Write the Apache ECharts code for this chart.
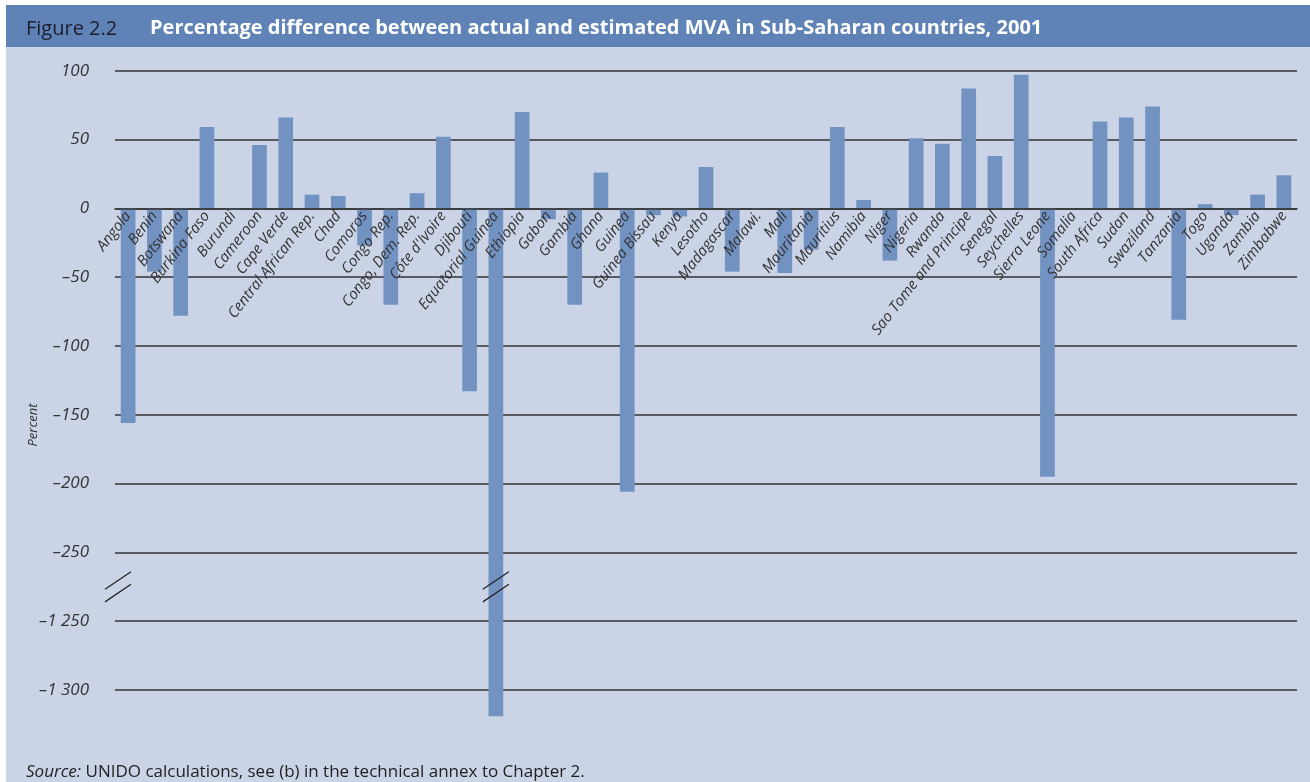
<!DOCTYPE html>
<html>
<head>
<meta charset="utf-8">
<title>Figure 2.2</title>
<script src="https://cdn.jsdelivr.net/npm/echarts@6/dist/echarts.min.js"></script>
<style>
  html, body { margin: 0; padding: 0; background: #fff; }
  .frame { position: relative; width: 1310px; height: 782px; overflow: hidden; }
  .head { position: absolute; left: 6px; top: 5px; width: 1304px; height: 42px; background: #5f83b6; }
  .body { position: absolute; left: 6px; top: 47px; width: 1304px; height: 735px; background: #cbd4e6; }
  #chart { position: absolute; left: 0; top: 0; width: 1310px; height: 782px; }
</style>
</head>
<body>
<div class="frame">
  <div class="head"></div>
  <div class="body"></div>
  <div id="chart"></div>
</div>
<script>
const countries = [
  'Angola', 'Benin', 'Botswana', 'Burkina Faso', 'Burundi', 'Cameroon', 'Cape Verde',
  'Central African Rep.', 'Chad', 'Comoros', 'Congo Rep.', 'Congo, Dem. Rep.', "Côte d'Ivoire",
  'Djibouti', 'Equatorial Guinea', 'Ethiopia', 'Gabon', 'Gambia', 'Ghana', 'Guinea',
  'Guinea Bissau', 'Kenya', 'Lesotho', 'Madagascar', 'Malawi.', 'Mali', 'Mauritania',
  'Mauritius', 'Namibia', 'Niger', 'Nigeria', 'Rwanda', 'Sao Tome and Principe', 'Senegal',
  'Seychelles', 'Sierra Leone', 'Somalia', 'South Africa', 'Sudan', 'Swaziland', 'Tanzania',
  'Togo', 'Uganda', 'Zambia', 'Zimbabwe'
]

// percent difference, actual vs estimated MVA
const diffPct = [
  -156, -46, -78, 59, -1, 46, 66,
  10, 9, -27, -70, 11, 52,
  -133, -1319, 70, -8, -70, 26, -206,
  -5, -6, 30, -46, -1, -47, -30,
  59, 6, -38, 51, 47, 87, 38,
  97, -195, 0, 63, 66, 74, -81,
  3, -5, 10, 24
]

// broken axis: -250 .. then jumps to -1 250
const breakAt = -275
const breakShift = 950
const axisMin = -400
const axisMax = 100

const toAxis = (v) => (v < breakAt - breakShift ? v + breakShift : v)
const fromAxis = (v) => (v < breakAt ? v - breakShift : v)

const fmtTick = (v) => {
  if (v < -350) return ''
  const real = fromAxis(v)
  const s = String(Math.abs(real)).replace(/\B(?=(\d{3})+(?!\d))/g, ' ')
  return real < 0 ? '\u2013' + s : s
}

const breakMarks = [[0, breakAt, 0]]
diffPct.forEach((v, i) => {
  if (v < breakAt - breakShift) breakMarks.push([i, breakAt, 1])
})

const ink = '#333'
const font = 'Open Sans'

const gridTop = 70.7
const gridBottom = 23.2
const gridH = 782 - gridTop - gridBottom
// put the category axis on the zero line
const zeroOffset = -gridH * (0 - axisMin) / (axisMax - axisMin)

const chart = echarts.init(document.getElementById('chart'))
chart.setOption({
  backgroundColor: 'transparent',
  animation: false,
  title: [
    {
      text: 'Figure 2.2',
      left: 21,
      top: 14,
      textStyle: { color: '#1d1d2b', fontSize: 20, fontWeight: 'normal', fontFamily: font },
    },
    {
      text: 'Percentage difference between actual and estimated MVA in Sub-Saharan countries, 2001',
      left: 145,
      top: 13,
      textStyle: { color: '#fff', fontSize: 20, fontWeight: 'bold', fontFamily: font },
    },
    {
      text: '{i|Source:} UNIDO calculations, see (b) in the technical annex to Chapter 2.',
      left: 21,
      top: 759,
      textStyle: {
        color: '#222', fontSize: 17, fontWeight: 'normal', fontFamily: font,
        rich: { i: { fontStyle: 'italic', fontSize: 17, color: '#222', fontFamily: font } },
      },
    },
  ],
  graphic: [
    {
      type: 'text',
      x: 33,
      y: 425,
      rotation: Math.PI / 2,
      style: {
        text: 'Percent', fill: ink, fontSize: 13, fontStyle: 'italic', fontFamily: font,
        align: 'center', verticalAlign: 'middle',
      },
    },
  ],
  grid: { left: 115, right: 13, top: gridTop, bottom: gridBottom, outerBoundsMode: 'none' },
  xAxis: {
    type: 'category',
    data: countries,
    offset: zeroOffset,
    z: 4,
    axisLine: { onZero: false, lineStyle: { color: ink, width: 1.5 } },
    axisTick: { length: 7, lineStyle: { color: ink, width: 1.5 } },
    axisLabel: {
      interval: 0, rotate: 52, margin: 5,
      color: ink, fontSize: 15, fontStyle: 'italic', fontFamily: font,
    },
  },
  yAxis: {
    type: 'value',
    min: axisMin,
    max: axisMax,
    interval: 50,
    axisLine: { show: false },
    axisTick: { show: false },
    axisLabel: {
      margin: 26, color: ink, fontSize: 17, fontStyle: 'italic', fontFamily: font,
      formatter: fmtTick,
    },
    splitLine: { show: true, showMinLine: false, lineStyle: { color: ink, width: 1.5 } },
  },
  series: [
    {
      type: 'bar',
      data: diffPct.map(toAxis),
      barWidth: '56%',
      itemStyle: { color: '#7292c2' },
      z: 3,
    },
    {
      type: 'custom',
      data: breakMarks,
      clip: false,
      z: 5,
      renderItem: (params, api) => {
        const c = api.coord([api.value(0), api.value(1)])
        const band = api.size([1, 0])[0]
        const x = api.value(2) === 0 ? c[0] - band / 2 + 3 : c[0]
        const y = c[1]
        const line = (dy) => ({
          type: 'line',
          shape: { x1: x - 13, y1: y + dy + 8.8, x2: x + 13, y2: y + dy - 8.8 },
          style: { stroke: '#222', lineWidth: 1.3 },
        })
        return { type: 'group', children: [line(-6.3), line(6.3)] }
      },
    },
  ],
})
</script>
</body>
</html>
